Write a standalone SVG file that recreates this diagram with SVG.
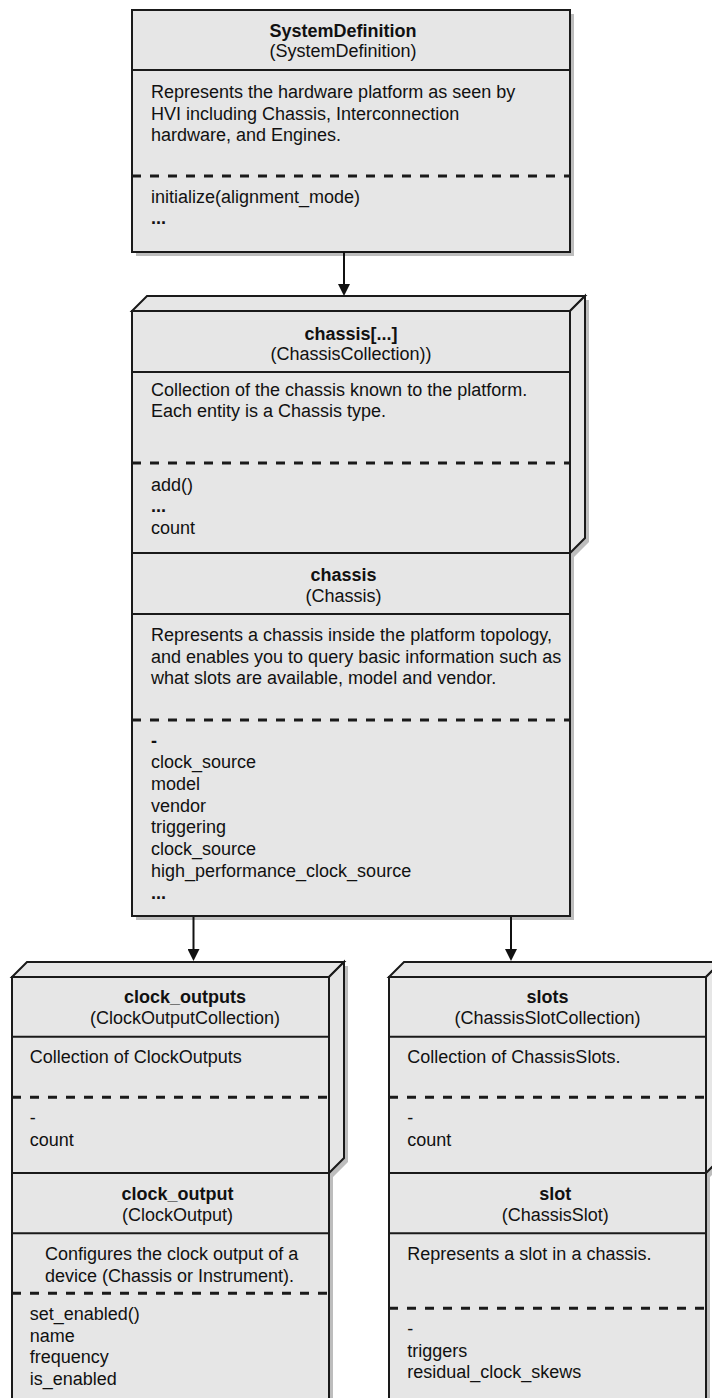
<svg xmlns="http://www.w3.org/2000/svg" width="712" height="1398" viewBox="0 0 712 1398">
<style>
text{font-family:"Liberation Sans",Arial,sans-serif;font-size:18px;fill:#111}
.t{font-weight:bold;text-anchor:middle}
.s{text-anchor:middle}
.b{font-weight:bold}
.box{fill:#e6e6e6;stroke:#1a1a1a;stroke-width:2}
.shd{fill:#bdbdbd;stroke:none}
.sep{stroke:#1a1a1a;stroke-width:2;fill:none}
.dash{stroke:#1a1a1a;stroke-width:3;stroke-dasharray:9 9;fill:none}
.con{stroke:#111;stroke-width:2;fill:none}
</style>
<defs>
<marker id="arr" markerUnits="userSpaceOnUse" markerWidth="12" markerHeight="12" refX="0" refY="6" orient="auto">
<path d="M0,0 L12,6 L0,12 z" fill="#111"/>
</marker>
</defs>

<g id="SystemDefinition">
<rect class="shd" x="136" y="14" width="438" height="242"/>
<rect class="box" x="132" y="10" width="438" height="242"/>
<line class="sep" x1="132" y1="70" x2="570" y2="70"/>
<line class="dash" x1="132" y1="176" x2="570" y2="176"/>
<text class="t" x="343" y="37">SystemDefinition</text>
<text class="s" x="343" y="57">(SystemDefinition)</text>
<text x="151" y="98">Represents the hardware platform as seen by</text>
<text x="151" y="119.5">HVI including Chassis, Interconnection</text>
<text x="151" y="141">hardware, and Engines.</text>
<text x="151" y="203">initialize(alignment_mode)</text>
<text class="b" x="151" y="224">...</text>
</g>

<g id="chassis_stack">
<polygon class="shd" points="136,315 151,300 589,300 589,542 574,557 574,920 136,920"/>
<g id="ChassisCollection">
<polygon class="box" points="132,311 147,296 585,296 570,311"/>
<polygon class="box" points="570,311 585,296 585,538 570,553"/>
<rect class="box" x="132" y="311" width="438" height="242"/>
<line class="sep" x1="132" y1="372" x2="570" y2="372"/>
<line class="dash" x1="132" y1="463" x2="570" y2="463"/>
<text class="t" x="351" y="340">chassis[...]</text>
<text class="s" x="351" y="360">(ChassisCollection))</text>
<text x="151" y="395.5">Collection of the chassis known to the platform.</text>
<text x="151" y="417.3">Each entity is a Chassis type.</text>
<text x="151" y="491">add()</text>
<text class="b" x="151" y="512.3">...</text>
<text x="151" y="534">count</text>
</g>
<g id="Chassis">
<rect class="box" x="132" y="553" width="438" height="363"/>
<line class="sep" x1="132" y1="614" x2="570" y2="614"/>
<line class="dash" x1="132" y1="720" x2="570" y2="720"/>
<text class="t" x="343.5" y="580.7">chassis</text>
<text class="s" x="343.5" y="602.3">(Chassis)</text>
<text x="151" y="641">Represents a chassis inside the platform topology,</text>
<text x="151" y="662.7">and enables you to query basic information such as</text>
<text x="151" y="684.3">what slots are available, model and vendor.</text>
<text class="b" x="151" y="747">-</text>
<text x="151" y="768.3">clock_source</text>
<text x="151" y="790">model</text>
<text x="151" y="811.7">vendor</text>
<text x="151" y="833.4">triggering</text>
<text x="151" y="855.1">clock_source</text>
<text x="151" y="876.8">high_performance_clock_source</text>
<text class="b" x="151" y="899">...</text>
</g>
</g>

<g id="clock_stack">
<polygon class="shd" points="16,981 31,966 348,966 348,1162 333,1177 333,1420 16,1420"/>
<g id="ClockOutputCollection">
<polygon class="box" points="12,977 27,962 344,962 329,977"/>
<polygon class="box" points="329,977 344,962 344,1158 329,1173"/>
<rect class="box" x="12" y="977" width="317" height="196"/>
<line class="sep" x1="12" y1="1036.7" x2="329" y2="1036.7"/>
<line class="dash" x1="12" y1="1097.3" x2="329" y2="1097.3"/>
<text class="t" x="185" y="1003.3">clock_outputs</text>
<text class="s" x="185" y="1024">(ClockOutputCollection)</text>
<text x="29.7" y="1063.3">Collection of ClockOutputs</text>
<text x="29.7" y="1124.3">-</text>
<text x="29.7" y="1146">count</text>
</g>
<g id="ClockOutput">
<rect class="box" x="12" y="1173" width="317" height="250"/>
<line class="sep" x1="12" y1="1233.3" x2="329" y2="1233.3"/>
<line class="dash" x1="12" y1="1293.3" x2="329" y2="1293.3"/>
<text class="t" x="177.5" y="1200">clock_output</text>
<text class="s" x="177.5" y="1220.7">(ClockOutput)</text>
<text x="45" y="1260">Configures the clock output of a</text>
<text x="45" y="1281.7">device (Chassis or Instrument).</text>
<text x="29.7" y="1320">set_enabled()</text>
<text x="29.7" y="1341.7">name</text>
<text x="29.7" y="1363.3">frequency</text>
<text x="29.7" y="1385">is_enabled</text>
</g>
</g>

<g id="slot_stack">
<polygon class="shd" points="393,981 408,966 725,966 725,1162 710,1177 710,1420 393,1420"/>
<g id="ChassisSlotCollection">
<polygon class="box" points="389,977 404,962 721,962 706,977"/>
<polygon class="box" points="706,977 721,962 721,1158 706,1173"/>
<rect class="box" x="389" y="977" width="317" height="196"/>
<line class="sep" x1="389" y1="1036.7" x2="706" y2="1036.7"/>
<line class="dash" x1="389" y1="1097.3" x2="706" y2="1097.3"/>
<text class="t" x="547.5" y="1003.3">slots</text>
<text class="s" x="547.5" y="1024">(ChassisSlotCollection)</text>
<text x="407.3" y="1063.3">Collection of ChassisSlots.</text>
<text x="407.3" y="1124.3">-</text>
<text x="407.3" y="1146">count</text>
</g>
<g id="ChassisSlot">
<rect class="box" x="389" y="1173" width="317" height="250"/>
<line class="sep" x1="389" y1="1233.3" x2="706" y2="1233.3"/>
<line class="dash" x1="389" y1="1308.3" x2="706" y2="1308.3"/>
<text class="t" x="555.3" y="1200">slot</text>
<text class="s" x="555.3" y="1220.7">(ChassisSlot)</text>
<text x="407.3" y="1260">Represents a slot in a chassis.</text>
<text x="407.3" y="1335">-</text>
<text x="407.3" y="1356.7">triggers</text>
<text x="407.3" y="1378.4">residual_clock_skews</text>
</g>
</g>

<g id="connectors">
<line class="con" x1="344" y1="252" x2="344" y2="284" marker-end="url(#arr)"/>
<line class="con" x1="193.5" y1="917" x2="193.5" y2="949" marker-end="url(#arr)"/>
<line class="con" x1="511" y1="917" x2="511" y2="949" marker-end="url(#arr)"/>
</g>
</svg>
